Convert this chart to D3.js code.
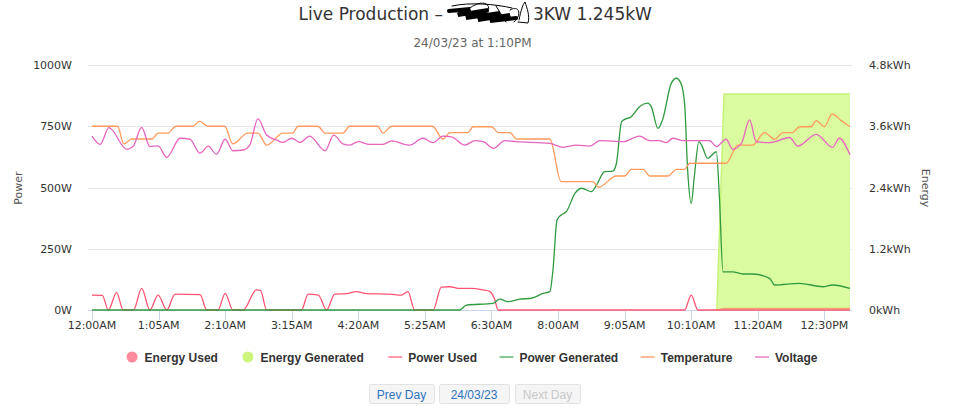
<!DOCTYPE html>
<html>
<head>
<meta charset="utf-8">
<script src="https://cdn.jsdelivr.net/npm/d3@7"></script>
<style>
body { margin: 0; background: #fff; }
</style>
</head>
<body>
<svg id="chart"></svg>
<script>
// x axis is a category axis (one point per reading), labels every 13 points
const tickIndex = [0, 13, 26, 39, 52, 65, 78, 91, 104, 117, 130, 143];
const tickLabels = ["12:00AM", "1:05AM", "2:10AM", "3:15AM", "4:20AM", "5:25AM", "6:30AM",
    "8:00AM", "9:05AM", "10:10AM", "11:20AM", "12:30PM"];
const lastIndex = 148;

const powerTicks = [0, 250, 500, 750, 1000];
const energyTicks = [0, 1.2, 2.4, 3.6, 4.8];

// [point index, kWh]
const energyUsed = [[122, 0], [123.4, 0.03], [148, 0.03]];
const energyGenerated = [[122, 0], [123.4, 4.23], [148, 4.23]];

// [point index, W]
const powerUsed = [[0, 61], [2, 60], [3.2, 0], [4.8, 71], [6.1, 0], [8.1, 0], [9.7, 88], [11.3, 0],
    [12.9, 61], [14.6, 0], [16.2, 65], [21.1, 63], [22.4, 0], [24.6, 0], [26, 68], [27.5, 0],
    [29.5, 0], [32.1, 82], [32.9, 80], [34.1, 0], [40.9, 0], [42.2, 65], [44.2, 61], [45.8, 0],
    [47.4, 65], [49.7, 67], [51.6, 75], [53.6, 67], [58.1, 65], [60.4, 61], [61.7, 75], [63, 0],
    [66.6, 0], [68.2, 93], [69.9, 95], [71.8, 88], [73.8, 88], [76.3, 82], [77.7, 75], [78.6, 45],
    [79.3, 0], [115.7, 0], [117, 61], [118.3, 0], [148, 0]];

const powerGenerated = [[0, 0], [71.8, 0], [73.1, 20], [78.3, 27], [79.6, 44], [81.2, 34], [83.5, 44],
    [85.8, 48], [88.1, 68], [89.4, 75], [90, 163], [90.8, 367], [91.6, 388], [92.6, 401], [94.3, 476],
    [95.6, 497], [97.5, 483], [98.5, 510], [100.1, 565], [101.7, 567], [102.4, 599], [103.4, 769],
    [104, 778], [105.3, 789], [106.9, 830], [108.5, 844], [109.2, 830], [110.5, 741], [111.4, 776],
    [113.1, 925], [114.1, 946], [115, 925], [115.7, 844], [116.3, 571], [117, 435], [117.6, 544],
    [118.5, 687], [119.1, 670], [120.2, 619], [121.9, 646], [122.5, 462], [123.2, 156], [125.1, 156],
    [127.1, 147], [129, 147], [132.3, 129], [133.3, 102], [138.1, 109], [142.7, 95], [144.6, 102],
    [148, 88]];

// temperature and voltage sit on hidden axes; values given in power-axis units
const temperature = [[0, 750], [5, 750], [6.2, 678], [7.8, 698], [11.7, 698], [12.9, 722], [14.8, 722],
    [16.4, 750], [19.7, 750], [21, 771], [22.6, 750], [25.9, 750], [27.5, 678], [30.4, 722], [32.4, 722],
    [34.1, 673], [37.3, 722], [39.2, 722], [40.2, 750], [44.1, 750], [45.5, 722], [49, 722], [50.3, 750],
    [55.8, 750], [56.8, 722], [58.5, 750], [66.5, 750], [68.5, 698], [69.9, 724], [73.4, 724],
    [74.4, 748], [78, 748], [79.3, 724], [81.6, 724], [82.9, 698], [89.4, 698], [91.6, 524], [97.8, 524],
    [98.9, 501], [102.4, 547], [104, 547], [105.3, 574], [107.6, 574], [108.9, 547], [112.5, 547],
    [114.1, 574], [115.7, 574], [116.7, 599], [123.8, 599], [126.1, 673], [129, 673], [131.3, 724],
    [133.3, 697], [134.9, 724], [136.8, 724], [138.1, 748], [140.4, 748], [141.4, 773], [143, 748],
    [144.5, 800], [146.3, 773], [148, 748]];

const voltage = [[0, 710], [1.6, 676], [3.3, 744], [6.8, 656], [8, 667], [9.7, 745], [11.3, 667],
    [12.9, 670], [14.6, 623], [17.2, 701], [19.1, 697], [21.1, 640], [22.7, 669], [24.3, 635], [26, 697],
    [27.5, 650], [29.5, 653], [30.8, 673], [32.4, 780], [34.1, 714], [36, 694], [37.3, 684], [39, 701],
    [40.6, 684], [42.5, 710], [45.5, 650], [47.2, 714], [49, 678], [50.3, 673], [52, 687], [54.2, 676],
    [56.8, 676], [58.5, 690], [62, 673], [64.6, 701], [66.6, 683], [68.5, 710], [70.2, 707], [72.8, 673],
    [74.8, 691], [76.4, 687], [78.4, 660], [80.6, 691], [82.9, 687], [89.4, 680], [92, 664], [94.6, 673],
    [97.2, 669], [99.1, 691], [103.7, 687], [106.9, 710], [108.9, 691], [110.8, 691], [112.1, 683],
    [113.4, 701], [115.4, 691], [120.6, 691], [121.9, 667], [123.8, 697], [125.1, 656], [126.8, 680],
    [128.4, 776], [129.7, 687], [132.3, 683], [136.2, 704], [137.8, 669], [141.4, 717], [144.6, 664],
    [145.9, 701], [148, 633]];

const legendNames = ["Energy Used", "Energy Generated", "Power Used", "Power Generated", "Temperature", "Voltage"];
const legendColors = ["#ff8b9b", "#cdf57c", "#ff9aab", "#86c992", "#ffbb96", "#f0a0d8"];

const width = 967, height = 413;
const svg = d3.select("#chart").attr("width", width).attr("height", height);

const x = d3.scaleLinear().domain([0, lastIndex]).range([92, 850]);
const yP = d3.scaleLinear().domain([0, 1000]).range([310, 65]);
const yE = d3.scaleLinear().domain([0, 4.8]).range([310, 65]);

// title
svg.append("text").attr("x", 443).attr("y", 19.5).attr("text-anchor", "end")
    .style("font", "17px 'DejaVu Sans'").attr("fill", "#333")
    .text("Live Production \u2013");
svg.append("text").attr("x", 533).attr("y", 19.5)
    .style("font", "17px 'DejaVu Sans'").attr("fill", "#333")
    .text("3KW 1.245kW");
// redaction scribble over the site name
const scrib = svg.append("g").attr("fill", "none").attr("stroke", "#000").attr("stroke-linecap", "round");
scrib.append("path").attr("stroke-width", 4)
    .attr("d", "M449,11 L470,9 L458,15 L488,10 L466,18 L500,13 L478,20 L510,15 L490,21 L516,18");
scrib.append("path").attr("stroke-width", 1)
    .attr("d", "M452,6 C470,2 495,4 512,8 M470,8 C480,0 492,2 488,12 M496,6 L506,22 M510,10 C520,4 522,16 514,22 M519,20 C521,10 523,4 525,2 C527,8 530,16 528,23 L518,22");

svg.append("text").attr("x", 472.5).attr("y", 46.5).attr("text-anchor", "middle")
    .style("font", "12px 'DejaVu Sans'").attr("fill", "#666")
    .text("24/03/23 at 1:10PM");

// grid
svg.append("g").selectAll("line").data(powerTicks).join("line")
    .attr("x1", 88).attr("x2", 852)
    .attr("y1", d => Math.round(yP(d)) + 0.5).attr("y2", d => Math.round(yP(d)) + 0.5)
    .attr("stroke", "#e6e6e6");

// y axes labels
svg.append("g").selectAll("text").data(powerTicks).join("text")
    .attr("x", 72).attr("y", d => yP(d) + 4).attr("text-anchor", "end")
    .style("font", "11px 'DejaVu Sans'").attr("fill", "#333")
    .text(d => d + "W");
svg.append("g").selectAll("text").data(energyTicks).join("text")
    .attr("x", 869).attr("y", d => yE(d) + 4)
    .style("font", "11px 'DejaVu Sans'").attr("fill", "#333")
    .text(d => d + "kWh");
svg.append("text").attr("transform", "translate(22,188) rotate(-90)").attr("text-anchor", "middle")
    .style("font", "11px 'DejaVu Sans'").attr("fill", "#555").text("Power");
svg.append("text").attr("transform", "translate(922,188) rotate(90)").attr("text-anchor", "middle")
    .style("font", "11px 'DejaVu Sans'").attr("fill", "#555").text("Energy");

// x axis
svg.append("line").attr("x1", 88).attr("x2", 852).attr("y1", 310.5).attr("y2", 310.5).attr("stroke", "#ccd6eb");
svg.append("g").selectAll("line").data(tickIndex).join("line")
    .attr("x1", d => Math.round(x(d)) + 0.5).attr("x2", d => Math.round(x(d)) + 0.5)
    .attr("y1", 310).attr("y2", 320).attr("stroke", "#ccd6eb");
svg.append("g").selectAll("text").data(tickIndex).join("text")
    .attr("x", d => x(d)).attr("y", 329).attr("text-anchor", "middle")
    .style("font", "11px 'DejaVu Sans'").attr("fill", "#333")
    .text((d, i) => tickLabels[i]);

// series
const area = d3.area().x(d => x(d[0])).y0(yE(0)).y1(d => yE(d[1]));
const energyLine = d3.line().x(d => x(d[0])).y(d => yE(d[1]));
const powerLine = d3.line().x(d => x(d[0])).y(d => yP(d[1])).curve(d3.curveMonotoneX);

svg.append("path").datum(energyUsed).attr("d", area).attr("fill", "#ff8b9b").attr("fill-opacity", 0.5);
svg.append("path").datum(energyGenerated).attr("d", area).attr("fill", "#dbfba0");
svg.append("path").datum(energyGenerated).attr("d", energyLine).attr("fill", "none")
    .attr("stroke", "#c6f277").attr("stroke-width", 1.5);
svg.append("path").datum(energyUsed).attr("d", energyLine).attr("fill", "none")
    .attr("stroke", "#f5a36f").attr("stroke-width", 1.2);

svg.append("path").datum(powerUsed).attr("d", powerLine).attr("fill", "none")
    .attr("stroke", "#ff5474").attr("stroke-width", 1.3);
svg.append("path").datum(powerGenerated).attr("d", powerLine).attr("fill", "none")
    .attr("stroke", "#2f9a3f").attr("stroke-width", 1.3);
svg.append("path").datum(temperature).attr("d", powerLine).attr("fill", "none")
    .attr("stroke", "#ff9a5c").attr("stroke-width", 1.3);
svg.append("path").datum(voltage).attr("d", powerLine).attr("fill", "none")
    .attr("stroke", "#e764bf").attr("stroke-width", 1.3);

// legend
const legend = svg.append("g");
const items = legend.selectAll("g").data(legendNames).join("g");
items.append("text").attr("y", 361.5)
    .style("font", "bold 12px 'Liberation Sans'").attr("fill", "#333")
    .text(d => d);
let lx = 0;
const itemX = [];
items.each(function (d, i) {
    const tw = d3.select(this).select("text").node().getComputedTextLength();
    itemX.push(lx);
    lx += 20 + tw + (i < legendNames.length - 1 ? 22.5 : 0);
});
const legendStart = 472 - lx / 2;
items.attr("transform", (d, i) => `translate(${legendStart + itemX[i]},0)`);
items.select("text").attr("x", d => d.startsWith("Energy") ? 18 : 20);
items.filter((d, i) => i < 2).append("circle")
    .attr("cx", 5.5).attr("cy", 357).attr("r", 5.5).attr("fill", (d, i) => legendColors[i]);
items.filter((d, i) => i >= 2).append("line")
    .attr("x1", 0).attr("x2", 14).attr("y1", 357).attr("y2", 357)
    .attr("stroke", d => legendColors[legendNames.indexOf(d)]).attr("stroke-width", 2);

// day buttons
const buttons = [
    { label: "Prev Day", x0: 369, x1: 434, color: "#2d73c2" },
    { label: "24/03/23", x0: 439, x1: 509, color: "#2d73c2" },
    { label: "Next Day", x0: 515, x1: 580, color: "#c8c8c8" }
];
const btn = svg.append("g").selectAll("g").data(buttons).join("g");
btn.append("rect").attr("x", d => d.x0 + 0.5).attr("y", 384.5).attr("width", d => d.x1 - d.x0).attr("height", 19)
    .attr("rx", 2).attr("fill", "#f5f5f5").attr("stroke", "#e2e2e2");
btn.append("text").attr("x", d => (d.x0 + d.x1) / 2).attr("y", 398.5).attr("text-anchor", "middle")
    .style("font", "12px 'Liberation Sans'").attr("fill", d => d.color).text(d => d.label);
</script>
</body>
</html>
